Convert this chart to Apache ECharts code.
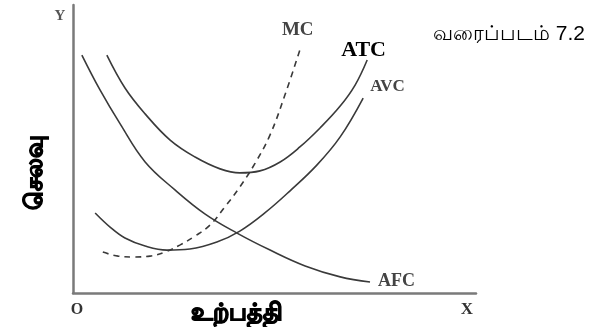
<!DOCTYPE html>
<html>
<head>
<meta charset="utf-8">
<script src="https://cdn.jsdelivr.net/npm/echarts@6/dist/echarts.min.js"></script>
<style>
  html, body { margin: 0; padding: 0; background: #fff; }
  #chart { width: 613px; height: 327px; }
</style>
</head>
<body>
<div id="chart"></div>
<script>
// cost curves, output (x) vs cost (y), both on a 0-100 scale
var afc = [[2.2, 82.6], [6.7, 70.5], [11.7, 58.7], [17.9, 45.5], [25.3, 35.8], [32.8, 27.4], [40.7, 20.8],
    [48.9, 14.9], [57.6, 9.4], [66.3, 5.6], [73.7, 3.8]]
var atc = [[8.4, 82.6], [12.9, 71.2], [17.9, 62.2], [24.1, 53.1], [30.3, 47.2], [36.5, 43.1], [41.4, 41.7],
    [46.4, 42.4], [51.4, 45.5], [56.3, 50.7], [61.3, 57.3], [66.3, 64.9], [70.0, 72.2], [73.0, 80.9]]
var avc = [[5.5, 27.8], [9.2, 22.9], [12.9, 19.1], [17.9, 16.3], [23.3, 14.9], [29.0, 15.3], [35.7, 17.7],
    [41.4, 21.5], [47.6, 27.8], [53.8, 35.4], [60.5, 44.4], [66.3, 54.2], [72.0, 67.7]]
var mc = [[7.4, 14.2], [11.2, 12.8], [14.9, 12.5], [19.1, 12.8], [22.8, 14.2], [26.6, 16.7], [30.3, 19.8],
    [34.0, 23.6], [37.7, 29.9], [41.4, 36.8], [45.2, 45.1], [48.9, 54.9], [52.6, 68.8], [56.3, 84.4]]

var chart = echarts.init(document.getElementById('chart'))

var curveColor = '#3a3a3a'
var serifLabel = {
    fontFamily: 'Liberation Serif',
    fontWeight: 'bold',
    fontSize: 17,
    color: '#444'
}

function curve(name, data, opts) {
    return {
        name: name,
        type: 'line',
        data: data,
        smooth: 0.4,
        symbol: 'none',
        silent: true,
        lineStyle: Object.assign({ color: curveColor, width: 1.6 }, opts.line || {}),
        endLabel: Object.assign({
            show: true,
            formatter: name
        }, serifLabel, opts.label || {})
    }
}

chart.setOption({
    animation: false,
    grid: {
        left: 73,
        right: 137,
        top: 5,
        bottom: 34
    },
    xAxis: {
        type: 'value',
        min: 0,
        max: 100,
        axisLine: { show: true, lineStyle: { color: '#7a7a7a', width: 2.5 } },
        axisTick: { show: false },
        axisLabel: { show: false },
        splitLine: { show: false }
    },
    yAxis: {
        type: 'value',
        min: 0,
        max: 100,
        axisLine: { show: true, lineStyle: { color: '#7a7a7a', width: 2.5 } },
        axisTick: { show: false },
        axisLabel: { show: false },
        splitLine: { show: false }
    },
    series: [
        curve('AFC', afc, { label: { offset: [0, -1], fontSize: 18 } }),
        curve('ATC', atc, {
            label: { offset: [-34, -10], fontSize: 22, color: '#000' }
        }),
        curve('AVC', avc, { label: { offset: [-1, -11] } }),
        curve('MC', mc, {
            line: { type: [6, 5], width: 1.6 },
            label: { offset: [-26, -20], fontSize: 19 }
        })
    ],
    graphic: [
        {
            type: 'text', x: 433, y: 34,
            style: {
                text: 'வரைப்படம் 7.2', fontSize: 21, fontFamily: 'Liberation Sans',
                fill: '#000', verticalAlign: 'middle'
            }
        },
        {
            type: 'text', x: 35, y: 172, rotation: Math.PI / 2,
            style: {
                text: 'செலவு', fontSize: 24, fontWeight: 'bold', fontFamily: 'Liberation Sans',
                fill: '#000', stroke: '#000', lineWidth: 1.2,
                align: 'center', verticalAlign: 'middle'
            }
        },
        {
            type: 'text', x: 237, y: 313,
            style: {
                text: 'உற்பத்தி', fontSize: 24, fontWeight: 'bold', fontFamily: 'Liberation Sans',
                fill: '#000', stroke: '#000', lineWidth: 1.2,
                align: 'center', verticalAlign: 'middle'
            }
        },
        {
            type: 'text', x: 60, y: 16,
            style: { text: 'Y', font: 'bold 15px "Liberation Serif"', fill: '#555', align: 'center', verticalAlign: 'middle' }
        },
        {
            type: 'text', x: 77, y: 310,
            style: { text: 'O', font: 'bold 16px "Liberation Serif"', fill: '#333', align: 'center', verticalAlign: 'middle' }
        },
        {
            type: 'text', x: 467, y: 310,
            style: { text: 'X', font: 'bold 17px "Liberation Serif"', fill: '#333', align: 'center', verticalAlign: 'middle' }
        }
    ]
})
</script>
</body>
</html>
